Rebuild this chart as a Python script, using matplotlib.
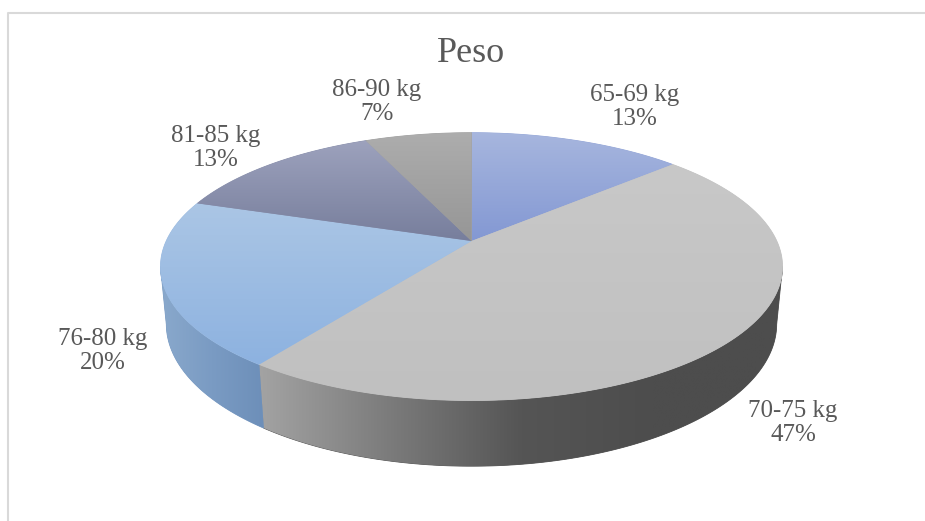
import numpy as np
import matplotlib
matplotlib.use("Agg")
import matplotlib.pyplot as plt
from matplotlib.patches import Polygon
from matplotlib.colors import LinearSegmentedColormap

# ---------------- DATA ----------------
categories = ["65-69 kg", "70-75 kg", "76-80 kg", "81-85 kg", "86-90 kg"]
counts = [2, 7, 3, 2, 1]

# top face gradients (upper colour -> lower colour)
top_colors = [
    ("#a7b6de", "#8398d3"),
    ("#c8c8c8", "#c0c0c0"),
    ("#abc6e5", "#8db2e0"),
    ("#9da2bd", "#777e9c"),
    ("#adadad", "#969696"),
]
# outer wall gradients (left -> right)
side_colors = [
    ["#8ea3d4", "#6f86c2"],
    ["#a3a3a3", "#7b7b7b", "#555555", "#4d4d4d", "#4d4d4d"],
    ["#8aa9cc", "#7a9bc3", "#6d8fb9"],
    ["#7d839f", "#6b718d"],
    ["#939393", "#808080"],
]
label_pos = [(635, 107), (793, 423), (103, 351), (216, 148), (377, 102)]

# ---------------- PROJECTION ----------------
CX, APEX_Y = 471.5, 241.0
ELEV = np.radians(25.0)
DIST = 4.74
FOCAL = 1447.0
DEPTH = 0.207
S, C = np.sin(ELEV), np.cos(ELEV)


def project(theta, r=1.0, z=0.0):
    # theta measured clockwise from 12 o'clock
    X = r * np.sin(theta)
    Y = r * np.cos(theta)
    depth = Y * C - z * S + DIST
    sx = CX + FOCAL * X / depth
    sy = APEX_Y - FOCAL * (Y * S + z * C) / depth
    return sx, sy


def gradient_fill(ax, verts, colors, vertical=True, zorder=1):
    verts = np.asarray(verts)
    cmap = LinearSegmentedColormap.from_list("g", colors)
    # solid base so that neighbouring pieces don't leave hairline gaps
    base = Polygon(verts, closed=True, fc=cmap(0.5), ec=cmap(0.5),
                   lw=0.6, zorder=zorder)
    ax.add_patch(base)
    clip = Polygon(verts, closed=True, fc="none", ec="none", zorder=zorder)
    ax.add_patch(clip)
    grad = np.linspace(0, 1, 256)
    arr = grad.reshape(-1, 1) if vertical else grad.reshape(1, -1)
    x0, y0 = verts.min(axis=0)
    x1, y1 = verts.max(axis=0)
    im = ax.imshow(arr, cmap=cmap, extent=(x0, x1, y1, y0), origin="upper",
                   interpolation="bilinear", zorder=zorder + 0.1)
    im.set_clip_path(clip)


fig = plt.figure(figsize=(9.25, 5.21), dpi=100)
ax = fig.add_axes([0, 0, 1, 1])
ax.axis("off")

total = sum(counts)
fracs = [v / total for v in counts]
bounds = np.concatenate([[0], np.cumsum(fracs)]) * 2 * np.pi

# visible part of the outer wall (between the two silhouette points)
vis_lo = np.arccos(-C / DIST)
vis_hi = 2 * np.pi - vis_lo

# walls first
for i in range(len(counts)):
    a, b = max(bounds[i], vis_lo), min(bounds[i + 1], vis_hi)
    if b <= a:
        continue
    t = np.linspace(a, b, 200)
    tx, ty = project(t)
    bx, by = project(t[::-1], z=-DEPTH)
    verts = np.column_stack([np.concatenate([tx, bx]), np.concatenate([ty, by])])
    gradient_fill(ax, verts, side_colors[i], vertical=False, zorder=1)

# top faces
for i in range(len(counts)):
    t = np.linspace(bounds[i], bounds[i + 1], 300)
    tx, ty = project(t)
    ax0, ay0 = project(0.0, r=0.0)
    verts = np.column_stack([np.concatenate([[ax0], tx]), np.concatenate([[ay0], ty])])
    gradient_fill(ax, verts, top_colors[i], vertical=True, zorder=3)

# data labels
serif = ["Liberation Serif", "DejaVu Serif"]
for cat, frac, (lx, ly) in zip(categories, fracs, label_pos):
    ax.text(lx, ly, f"{cat}\n{frac * 100:.0f}%", ha="center", va="center",
            fontsize=18, family=serif, color="#595959", linespacing=1.1,
            zorder=6)

ax.text(471, 53, "Peso", ha="center", va="center", fontsize=26,
        family=serif, color="#595959", zorder=6)

# chart area border
ax.plot([8, 8, 925], [521, 13, 13], color="#d9d9d9", lw=1.5, zorder=0)

ax.set_xlim(0, 925)
ax.set_ylim(521, 0)
ax.set_aspect("auto")

fig.savefig("out.png", dpi=100, facecolor="white")
